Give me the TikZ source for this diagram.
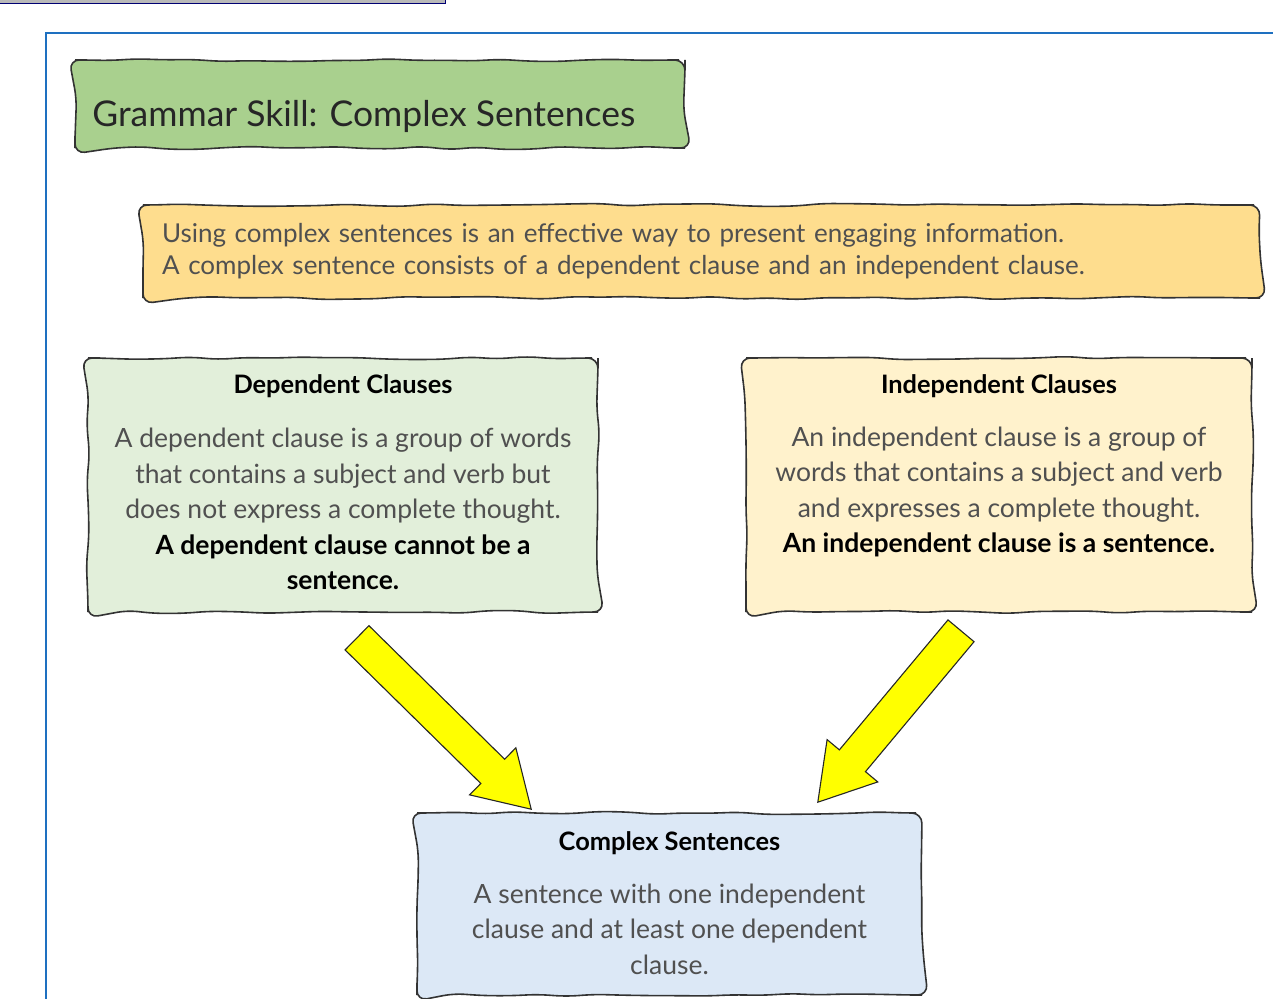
\documentclass[tikz,border=0pt]{standalone}
\usepackage{fontspec}
\setmainfont{Lato}
\usepackage{tikz}
\usetikzlibrary{positioning,calc,decorations.pathmorphing}

\definecolor{frameblue}{RGB}{30,112,192}
\definecolor{titlegreen}{RGB}{169,208,142}
\definecolor{introyellow}{RGB}{254,221,142}
\definecolor{depgreen}{RGB}{226,239,218}
\definecolor{indepcream}{RGB}{255,242,204}
\definecolor{cplxblue}{RGB}{220,232,246}
\definecolor{bodygray}{RGB}{80,80,80}
\definecolor{arrowyellow}{RGB}{255,255,0}

\newcommand{\keyline}[1]{{\color{black}\bfseries #1}}
\newcommand{\fatarrow}[2]{%
    \path[yarrow] ($(#1)!17pt!90:(#2)$)
        -- ($(#2)!54pt!(#1)!17pt!90:(#2)$)
        -- ($(#2)!54pt!(#1)!33pt!90:(#2)$)
        -- (#2)
        -- ($(#2)!54pt!(#1)!33pt!-90:(#2)$)
        -- ($(#2)!54pt!(#1)!17pt!-90:(#2)$)
        -- ($(#1)!17pt!-90:(#2)$) -- cycle;}

\tikzset{
    on grid,
    note/.style = {
        draw=black!80,
        shape=rectangle,
        line width=1.6pt,
        decorate,
        decoration={random steps, segment length=28pt, amplitude=1.6pt,
                    pre length=6pt, post length=6pt},
        rounded corners=10pt
    },
    heading/.style = {
        font=\fontsize{25.4}{30}\selectfont\bfseries,
        inner sep=0pt
    },
    body/.style = {
        align=center,
        text=bodygray,
        font=\fontsize{26.5}{35.5}\selectfont,
        inner sep=0pt
    },
    yarrow/.style = {
        draw=black!85,
        fill=arrowyellow,
        line width=1.1pt,
        line join=miter
    },
}

\begin{document}
\begin{tikzpicture}[x=1pt, y=-1pt]
    \pgfmathsetseed{7}
    \useasboundingbox (0,0) rectangle (1273,998);
    \clip (0,0) rectangle (1273,998);

    \path[fill=gray!55, draw=blue!45!black, line width=1pt] (-5,-5) rectangle (445,4);
    \draw[frameblue, line width=2pt] (46,1010) |- (1290,33);

    \node[note, fill=titlegreen, minimum width=610, minimum height=88] (title) at (380,104) {};
    \node[anchor=west, inner sep=0pt, font=\fontsize{35.5}{40}\selectfont, text=black!85]
          (titletext) at ($(title.west)+(18,12)$) {Grammar Skill: Complex Sentences};

    \node[note, fill=introyellow, minimum width=1117, minimum height=93,
          text width=1079, align=left, text=bodygray,
          font=\fontsize{26}{32}\selectfont] (intro) at (701.5,251.5)
          {Using complex sentences is an effective way to present engaging information.\\
           A complex sentence consists of a dependent clause and an independent clause.};

    \node[note, fill=depgreen, minimum width=510, minimum height=254] (dep) at (343,485) {};
    \node[heading, below=17pt of dep.north] (deptitle) {Dependent Clauses};
    \node[body, below=123pt of deptitle] (deptext)
          {A dependent clause is a group of words\\
           that contains a subject and verb but\\
           does not express a complete thought.\\
           \keyline{A dependent clause cannot be a}\\
           \keyline{sentence.}};

    \node[note, fill=indepcream, minimum width=506, minimum height=254] (indep) at (999,485) {};
    \node[heading, below=17pt of indep.north] (indeptitle) {Independent Clauses};
    \node[body, below=106pt of indeptitle] (indeptext)
          {An independent clause is a group of\\
           words that contains a subject and verb\\
           and expresses a complete thought.\\
           \keyline{An independent clause is a sentence.}};

    \node[note, fill=cplxblue, minimum width=505, minimum height=182] (cplx) at (669.5,904) {};
    \node[heading, below=19pt of cplx.north] (cplxtitle) {Complex Sentences};
    \node[body, below=86pt of cplxtitle] (cplxtext)
          {A sentence with one independent\\
           clause and at least one dependent\\
           clause.};

    \coordinate (dtail) at ($(dep.south)+(14,25)$);
    \coordinate (dtip) at ($(cplx.north west)+(115,-3)$);
    \coordinate (itail) at ($(indep.south)+(-38,18)$);
    \coordinate (itip) at ($(cplx.north east)+(-105,-10)$);

    \fatarrow{dtail}{dtip}
    \fatarrow{itail}{itip}
\end{tikzpicture}
\end{document}
